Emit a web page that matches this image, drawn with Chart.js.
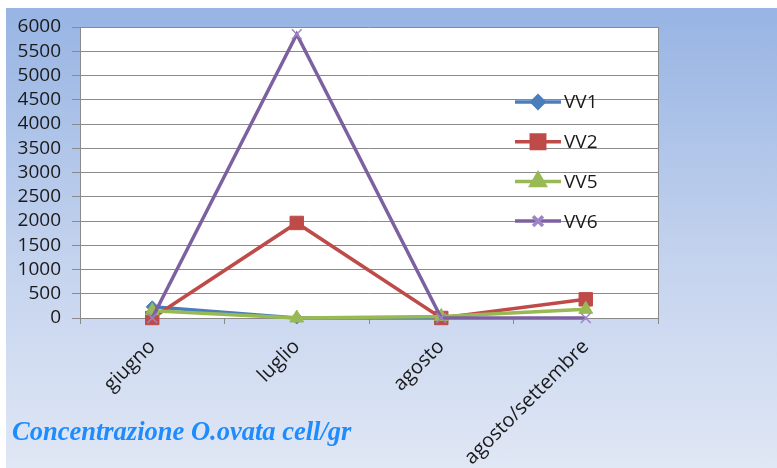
<!DOCTYPE html>
<html>
<head>
<meta charset="utf-8">
<script src="https://cdn.jsdelivr.net/npm/chart.js@4/dist/chart.umd.min.js"></script>
<style>
  body { margin: 0; background: #fff; }
  #wrap { position: relative; width: 777px; height: 468px; overflow: hidden; }
  #bg { position: absolute; left: 6px; top: 8px; right: 0; bottom: 0;
        background: linear-gradient(to bottom, #97b4e3 0%, #c4d3ee 55%, #e0e7f5 100%); }
  #chart { position: absolute; left: 0; top: 0; }
  #title { position: absolute; left: 12px; top: 416px; font: italic bold 26.5px "Liberation Serif", serif;
           color: #1e8cff; white-space: nowrap; }
</style>
</head>
<body>
<div id="wrap">
  <div id="bg"></div>
  <canvas id="chart" width="777" height="468"></canvas>
  <div id="title">Concentrazione O.ovata cell/gr</div>
</div>
<script>
const categories = ['giugno', 'luglio', 'agosto', 'agosto/settembre'];
const vv1 = [230, 0, 0, null];
const vv2 = [0, 1960, 0, 385];
const vv5 = [150, 0, 30, 180];
const vv6 = [0, 5850, 0, 0];
const yMax = 6000;
const yStep = 500;

const font = { family: '"Open Sans", sans-serif', size: 19 };

// white plot area + right border
const plotBg = {
  id: 'plotBg',
  beforeDraw(chart) {
    const { ctx, chartArea: a } = chart;
    ctx.save();
    ctx.fillStyle = '#fff';
    ctx.fillRect(a.left, a.top, a.right - a.left, a.bottom - a.top);
    ctx.restore();
  },
  beforeDatasetsDraw(chart) {
    const { ctx, chartArea: a } = chart;
    ctx.save();
    ctx.strokeStyle = '#8a8a8a';
    ctx.lineWidth = 1;
    ctx.beginPath();
    ctx.moveTo(a.right + 0.5, a.top);
    ctx.lineTo(a.right + 0.5, a.bottom);
    ctx.stroke();
    ctx.restore();
  }
};

// legend drawn inside the plot, like the excel one
const innerLegend = {
  id: 'innerLegend',
  afterDraw(chart) {
    const { ctx, chartArea: a } = chart;
    const x0 = a.right - 143;
    const y0 = a.top + 75;
    ctx.save();
    chart.data.datasets.forEach((ds, i) => {
      const y = y0 + i * 39.7;
      ctx.strokeStyle = ds.borderColor;
      ctx.lineWidth = 3.5;
      ctx.beginPath();
      ctx.moveTo(x0, y);
      ctx.lineTo(x0 + 46, y);
      ctx.stroke();
      ctx.fillStyle = ds.pointBackgroundColor;
      ctx.strokeStyle = ds.pointBorderColor;
      Chart.helpers.drawPoint(ctx, {
        pointStyle: ds.pointStyle,
        radius: ds.pointRadius,
        rotation: 0,
        borderWidth: ds.pointBorderWidth
      }, x0 + 23, y);
      ctx.fillStyle = '#1a1a1a';
      ctx.font = font.size + 'px ' + font.family;
      ctx.textBaseline = 'middle';
      ctx.textAlign = 'left';
      ctx.fillText(ds.label, x0 + 49, y + 1);
    });
    ctx.restore();
  }
};

new Chart(document.getElementById('chart'), {
  type: 'line',
  data: {
    labels: categories,
    datasets: [
      { label: 'VV1', data: vv1, order: 4, clip: false, borderColor: '#4a7ebb', borderWidth: 3.5,
        pointStyle: 'rectRot', pointRadius: 6, pointBackgroundColor: '#4a7ebb', pointBorderColor: '#4a7ebb', pointBorderWidth: 1 },
      { label: 'VV2', data: vv2, order: 3, clip: false, borderColor: '#be4b48', borderWidth: 3.5,
        pointStyle: 'rect', pointRadius: 9.5, pointBackgroundColor: '#be4b48', pointBorderColor: '#be4b48', pointBorderWidth: 1 },
      { label: 'VV5', data: vv5, order: 2, clip: false, borderColor: '#98b954', borderWidth: 3.5,
        pointStyle: 'triangle', pointRadius: 8, pointBackgroundColor: '#98b954', pointBorderColor: '#98b954', pointBorderWidth: 1 },
      { label: 'VV6', data: vv6, order: 1, clip: false, borderColor: '#7d60a0', borderWidth: 3.5,
        pointStyle: 'crossRot', pointRadius: 7, pointBackgroundColor: '#9d85c4', pointBorderColor: '#9d85c4', pointBorderWidth: 1.5 }
    ]
  },
  options: {
    responsive: false,
    animation: false,
    layout: { padding: { left: 0, top: 27, right: 119, bottom: 0 } },
    plugins: {
      legend: { display: false },
      tooltip: { enabled: false }
    },
    scales: {
      x: {
        offset: true,
        afterFit: s => { s.height = 150; },
        grid: { offset: true, drawOnChartArea: false, tickLength: 6, color: '#8a8a8a' },
        border: { color: '#8a8a8a' },
        ticks: { font: { family: font.family, size: 20 }, color: '#1a1a1a', minRotation: 45, maxRotation: 45, padding: 11 }
      },
      y: {
        min: 0,
        max: yMax,
        afterFit: s => { s.width = 80; },
        grid: { color: '#8a8a8a', tickLength: 8 },
        border: { color: '#8a8a8a' },
        ticks: { stepSize: yStep, autoSkip: false, font: font, color: '#1a1a1a', padding: 11,
                 callback: v => String(v) }
      }
    }
  },
  plugins: [plotBg, innerLegend]
});
</script>
</body>
</html>
